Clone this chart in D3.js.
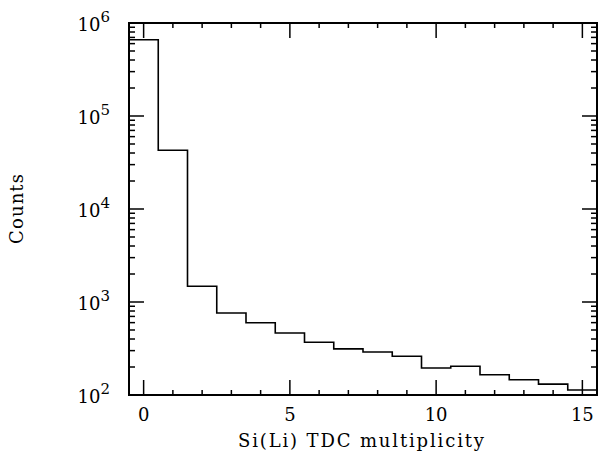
<!DOCTYPE html>
<html>
<head>
<meta charset="utf-8">
<script src="https://cdn.jsdelivr.net/npm/d3@7"></script>
<style>
  body { margin: 0; background: #fff; }
  svg text { font-family: "DejaVu Serif", serif; fill: #000; }
</style>
</head>
<body>
<div id="chart"></div>
<script>
// bin centres (multiplicity) and counts per bin
const bins = [0, 1, 2, 3, 4, 5, 6, 7, 8, 9, 10, 11, 12, 13, 14, 15];
const counts = [660000, 42800, 1475, 763, 599, 464, 369, 313, 290, 261, 195, 204, 165, 146, 131, 113];
const xTicks = [0, 5, 10, 15];
const yDecades = [2, 3, 4, 5, 6];

const width = 600, height = 454;
const margin = {top: 23, right: 3, bottom: 59, left: 129};

const svg = d3.select("#chart")
    .append("svg")
    .attr("width", width)
    .attr("height", height);

const x = d3.scaleLinear()
    .domain([-0.5, 15.5])
    .range([margin.left, width - margin.right]);

const y = d3.scaleLog()
    .domain([100, 1e6])
    .range([height - margin.bottom, margin.top]);

const x0 = x.range()[0], x1 = x.range()[1];
const y0 = y.range()[0], y1 = y.range()[1];

// histogram as a step line
const pts = [];
bins.forEach((b, i) => {
    pts.push([b - 0.5, counts[i]]);
    pts.push([b + 0.5, counts[i]]);
});

const line = d3.line()
    .x(d => x(d[0]))
    .y(d => y(d[1]));

svg.append("path")
    .datum(pts)
    .attr("fill", "none")
    .attr("stroke", "#000")
    .attr("stroke-width", 1.6)
    .attr("d", line);

// ticks on all four sides
const ticks = svg.append("g").attr("stroke", "#000").attr("stroke-width", 1.5);

d3.range(0, 16).forEach(v => {
    const len = v % 5 === 0 ? 15 : 5;
    ticks.append("line").attr("x1", x(v)).attr("x2", x(v)).attr("y1", y0).attr("y2", y0 - len);
    ticks.append("line").attr("x1", x(v)).attr("x2", x(v)).attr("y1", y1).attr("y2", y1 + len);
});

yDecades.forEach(e => {
    const steps = e < 6 ? d3.range(1, 10) : [1];
    steps.forEach(m => {
        const v = m * Math.pow(10, e);
        const len = m === 1 ? 15 : 6;
        ticks.append("line").attr("x1", x0).attr("x2", x0 + len).attr("y1", y(v)).attr("y2", y(v));
        ticks.append("line").attr("x1", x1).attr("x2", x1 - len).attr("y1", y(v)).attr("y2", y(v));
    });
});

// frame
svg.append("rect")
    .attr("x", x0)
    .attr("y", y1)
    .attr("width", x1 - x0)
    .attr("height", y0 - y1)
    .attr("fill", "none")
    .attr("stroke", "#000")
    .attr("stroke-width", 2);

// x tick labels
svg.append("g")
    .selectAll("text")
    .data(xTicks)
    .join("text")
    .attr("x", d => x(d))
    .attr("y", y0 + 26)
    .attr("text-anchor", "middle")
    .attr("font-size", 18)
    .text(d => d);

// y tick labels 10^n
const yl = svg.append("g")
    .selectAll("text")
    .data(yDecades)
    .join("text")
    .attr("x", x0 - 19)
    .attr("y", d => y(Math.pow(10, d)) + 8)
    .attr("text-anchor", "end")
    .attr("font-size", 18);

yl.append("tspan").text("10");
yl.append("tspan")
    .attr("dy", -9)
    .attr("font-size", 15)
    .text(d => d);

// axis titles
svg.append("text")
    .attr("x", (x0 + x1) / 2 - 2)
    .attr("y", height - 7)
    .attr("text-anchor", "middle")
    .attr("font-size", 18)
    .attr("textLength", 246)
    .attr("lengthAdjust", "spacing")
    .text("Si(Li) TDC multiplicity");

svg.append("text")
    .attr("transform", `translate(23,${(y0 + y1) / 2}) rotate(-90)`)
    .attr("text-anchor", "middle")
    .attr("font-size", 18)
    .attr("textLength", 70)
    .attr("lengthAdjust", "spacing")
    .text("Counts");
</script>
</body>
</html>
